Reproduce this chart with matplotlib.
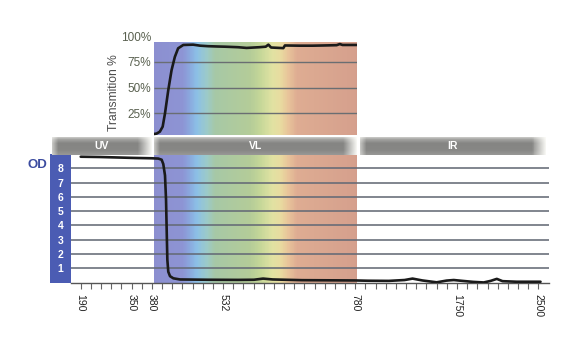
import numpy as np
import matplotlib
matplotlib.use("Agg")
import matplotlib.pyplot as plt
from matplotlib.colors import to_rgb
from matplotlib.patches import Rectangle

plt.rcParams['font.family'] = ['Liberation Sans', 'DejaVu Sans']

# ---------------- data ----------------
TICK_WL = [190, 350, 380, 532, 780, 1750, 2500]
TICK_LABELS = ['190', '350', '380', '532', '780', '1750', '2500']

OD_WL = [190, 250, 300, 350, 380, 393.7, 400.8, 404.3, 408, 410.2, 411.7, 413, 415,
         418.7, 425.8, 440, 500, 560, 590, 607, 625, 680, 780, 900, 1100, 1250,
         1326, 1420, 1556, 1650, 1719, 1800, 1900, 1997, 2060, 2117, 2170, 2300, 2520]
OD_VAL = [8.81, 8.79, 8.76, 8.73, 8.70, 8.68, 8.60, 8.30, 7.50, 5.80, 3.50, 1.60, 0.76,
          0.45, 0.30, 0.22, 0.20, 0.19, 0.20, 0.28, 0.22, 0.17, 0.15, 0.13, 0.12, 0.18,
          0.28, 0.15, 0.02, 0.14, 0.18, 0.12, 0.05, 0.01, 0.12, 0.26, 0.10, 0.06, 0.06]

T_WL = [384, 390, 397, 403, 408, 415, 422, 429, 436, 447, 468, 483, 500, 520, 536, 560,
        576, 600, 612, 617, 622, 645, 648, 676, 700, 720, 745, 751, 756, 795]
T_VAL = [4.4, 4.8, 6.7, 11.6, 24.7, 47.5, 67.0, 80.0, 88.4, 91.7, 92.0, 91.0, 90.5, 90.2,
         90.0, 89.5, 88.8, 89.5, 90.0, 92.0, 89.2, 88.6, 91.2, 91.0, 91.0, 91.2, 91.5,
         92.6, 91.7, 91.7]

OD_TICKS = [1, 2, 3, 4, 5, 6, 7, 8]
T_TICKS = [25, 50, 75, 100]
T_TICK_LABELS = ['25%', '50%', '75%', '100%']

BAND_NAMES = ['UV', 'VL', 'IR']
BAND_START = [100, 384, 826]
BAND_END = [380, 795, 2567]

SPEC_WL = [384, 446, 461, 476, 498, 515, 583, 601, 624, 639, 654, 671, 795]
SPEC_COL = ['#8c8fd0', '#8d94d4', '#8aa8de', '#8cc0e6', '#9ccac8', '#a6c8a6',
            '#b4cc98', '#c4d698', '#e0e2a2', '#e8dca0', '#e8c49a', '#deac92', '#d49e8c']

# ---------------- scale (piecewise wavelength axis) ----------------
IDX = [0, 5, 7, 14, 27, 37, 45]
WLa = np.array(TICK_WL, float)
IDa = np.array(IDX, float)


def _pw(x, xa, ya):
    x = np.asarray(x, float)
    out = np.interp(x, xa, ya)
    s0 = (ya[1] - ya[0]) / (xa[1] - xa[0])
    s1 = (ya[-1] - ya[-2]) / (xa[-1] - xa[-2])
    out = np.where(x < xa[0], ya[0] + (x - xa[0]) * s0, out)
    out = np.where(x > xa[-1], ya[-1] + (x - xa[-1]) * s1, out)
    return out


def fwd(w):
    return _pw(w, WLa, IDa)


def inv(u):
    return _pw(u, IDa, WLa)


PX0, PXS = 80.7, 10.17
W, H = 585, 350


def idx_of_px(p):
    return (p - PX0) / PXS


def px_of_idx(i):
    return PX0 + PXS * i


def rect(x0, x1, y0, y1):
    return [x0 / W, 1 - y1 / H, (x1 - x0) / W, (y1 - y0) / H]


fig = plt.figure(figsize=(W / 100, H / 100), dpi=100)
fig.patch.set_facecolor('white')

XLIM = (float(inv(idx_of_px(70.5))), float(inv(idx_of_px(549.3))))

spec_rgb = np.array([to_rgb(c) for c in SPEC_COL])


def spectrum_mesh(ax, y0, y1, z=0.2):
    nx = 260
    u = np.linspace(fwd(SPEC_WL[0]), fwd(SPEC_WL[-1]), nx + 1)
    xe = inv(u)
    xc = inv((u[:-1] + u[1:]) / 2)
    C = np.stack([np.interp(xc, SPEC_WL, spec_rgb[:, k]) for k in range(3)], axis=-1)
    C = C[np.newaxis, :, :]
    ax.pcolormesh(xe, [y0, y1], C, shading='flat', edgecolors='none',
                  antialiased=False, zorder=z)


# ---------------- OD panel ----------------
ax_od = fig.add_axes(rect(70.5, 549.3, 154.0, 282.6))
ax_od.set_xscale('function', functions=(fwd, inv))
ax_od.set_xlim(*XLIM)
ax_od.set_ylim(0, 9)
spectrum_mesh(ax_od, 0, 9)
ax_od.set_yticks(OD_TICKS)
ax_od.set_yticklabels([str(v) for v in OD_TICKS])
ax_od.set_axisbelow(True)
ax_od.yaxis.grid(True, color='#646a76', lw=1.15, zorder=0.5)
ax_od.plot(OD_WL, OD_VAL, color='#1a1a1a', lw=1.9, zorder=3, solid_capstyle='round')
for s in ['top', 'right', 'left']:
    ax_od.spines[s].set_visible(False)
ax_od.spines['bottom'].set_color('#555555')
ax_od.spines['bottom'].set_linewidth(1.0)
ax_od.set_xticks(TICK_WL)
ax_od.set_xticklabels(TICK_LABELS, rotation=270, fontsize=7.5, color='#222222')
ax_od.set_xticks(inv(np.arange(0, 46)), minor=True)
ax_od.tick_params(axis='x', which='both', direction='out', length=4, width=0.8,
                  color='#666666', pad=4)
ax_od.tick_params(axis='y', length=0, pad=5, labelcolor='white', labelsize=7.5)
for lbl in ax_od.get_yticklabels():
    lbl.set_fontweight('bold')
strip_w = (70.5 - 49.9) / (549.3 - 70.5)
ax_od.add_patch(Rectangle((-strip_w, 0), strip_w, 1, transform=ax_od.transAxes,
                          facecolor='#4b5cb3', edgecolor='none', clip_on=False, zorder=0.05))
fig.text(37 / W, 1 - 165.5 / H, 'OD', ha='center', va='center', fontsize=9.5,
         fontweight='bold', color='#3c4ca0')

# ---------------- Transmission panel ----------------
tl = px_of_idx(fwd(SPEC_WL[0]))
tr = px_of_idx(fwd(SPEC_WL[-1]))
ax_t = fig.add_axes(rect(float(tl), float(tr), 36.5, 138.5))
ax_t.set_xscale('function', functions=(fwd, inv))
ax_t.set_xlim(SPEC_WL[0], SPEC_WL[-1])
ax_t.set_ylim(0, 100)
ax_t.patch.set_alpha(0)
spectrum_mesh(ax_t, 3.4, 94.9)
ax_t.hlines(T_TICKS[:-1], SPEC_WL[0], SPEC_WL[-1], colors='#6a6e72', lw=1.0, zorder=1)
ax_t.plot(T_WL, T_VAL, color='#1a1a1a', lw=1.9, zorder=3, solid_capstyle='round')
ax_t.set_yticks(T_TICKS)
ax_t.set_yticklabels(T_TICK_LABELS)
ax_t.tick_params(axis='y', length=0, pad=2, labelsize=8.5, labelcolor='#59604f')
ax_t.set_xticks([])
ax_t.set_xticks([], minor=True)
for s in ax_t.spines.values():
    s.set_visible(False)
ax_t.text(-0.195, 0.446, 'Transmition %', transform=ax_t.transAxes, rotation=90,
          ha='center', va='center', fontsize=8.7, color='#4d4d4d')

# ---------------- Band bar ----------------
ax_b = fig.add_axes(rect(70.5, 549.3, 136.7, 155.0))
ax_b.set_xscale('function', functions=(fwd, inv))
ax_b.set_xlim(*XLIM)
ax_b.set_ylim(0, 1)
ax_b.axis('off')
ny = 40
ye = np.linspace(1, 0, ny + 1)
sc = (np.arange(ny) + 0.5) / ny
vprof = np.interp(sc, [0, 0.12, 0.35, 0.75, 1.0], [0.82, 0.66, 0.52, 0.53, 0.60])
for name, s, e in zip(BAND_NAMES, BAND_START, BAND_END):
    nx = 200
    u = np.linspace(fwd(s), fwd(e), nx + 1)
    xe = inv(u)
    L = (u[-1] - u[0]) * PXS
    p = ((u[:-1] + u[1:]) / 2 - u[0]) * PXS
    f = np.clip(0.55 * (1 - p / 6), 0, None) + np.clip(0.95 * (p - (L - 14)) / 14, 0, None)
    f = np.clip(f, 0, 1)
    c = vprof[:, None] + (1 - vprof[:, None]) * f[None, :]
    C = np.stack([c, c, c * 0.985], axis=-1)
    m = ax_b.pcolormesh(xe, ye, C, shading='flat', edgecolors='none', antialiased=False)
    m.set_clip_on(False)
    xm = float(inv((u[0] + u[-1]) / 2))
    ax_b.text(xm, 0.5, name, ha='center', va='center', fontsize=7.5,
              fontweight='bold', color='white')

fig.savefig('out.png', dpi=100)
